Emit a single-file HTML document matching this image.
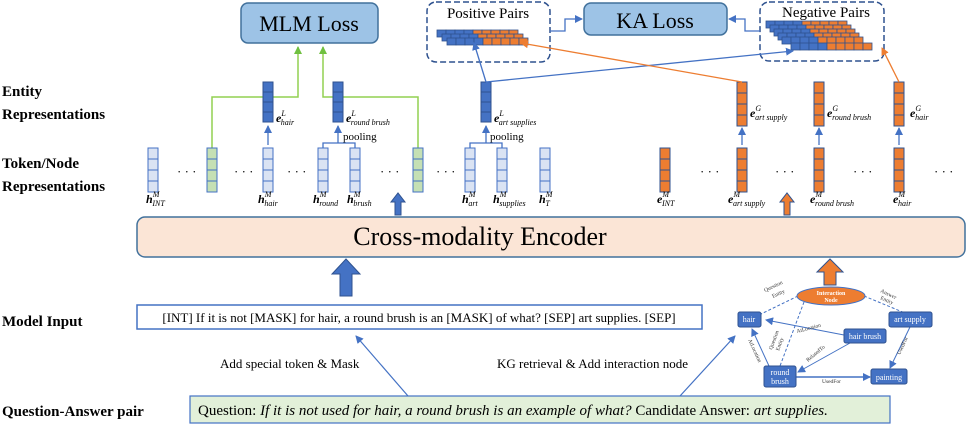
<!DOCTYPE html>
<html><head><meta charset="utf-8"><style>
html,body{margin:0;padding:0;background:#fff;}
svg, svg text, svg tspan{font-family:"Liberation Serif","Times New Roman",serif;}
</style></head><body>
<svg width="969" height="426" viewBox="0 0 969 426" xmlns="http://www.w3.org/2000/svg" font-family="Liberation Serif, serif">
<defs>
<marker id="ab" markerWidth="8" markerHeight="8" refX="7" refY="4" orient="auto" markerUnits="userSpaceOnUse"><path d="M0,0 L8,4 L0,8 z" fill="#4472c4"/></marker>
<marker id="ag" markerWidth="8" markerHeight="8" refX="7" refY="4" orient="auto" markerUnits="userSpaceOnUse"><path d="M0,0 L8,4 L0,8 z" fill="#70c040"/></marker>
<marker id="ao" markerWidth="8" markerHeight="8" refX="7" refY="4" orient="auto" markerUnits="userSpaceOnUse"><path d="M0,0 L8,4 L0,8 z" fill="#ed7d31"/></marker>
<g id="lb"><rect x="0" y="0" width="10" height="11" fill="#dae3f3" stroke="#4472c4"/><rect x="0" y="11" width="10" height="11" fill="#dae3f3" stroke="#4472c4"/><rect x="0" y="22" width="10" height="11" fill="#dae3f3" stroke="#4472c4"/><rect x="0" y="33" width="10" height="11" fill="#dae3f3" stroke="#4472c4"/></g>
<g id="gb"><rect x="0" y="0" width="10" height="11" fill="#c5e0b4" stroke="#4472c4"/><rect x="0" y="11" width="10" height="11" fill="#c5e0b4" stroke="#4472c4"/><rect x="0" y="22" width="10" height="11" fill="#c5e0b4" stroke="#4472c4"/><rect x="0" y="33" width="10" height="11" fill="#c5e0b4" stroke="#4472c4"/></g>
<g id="db"><rect x="0" y="0" width="10" height="10" fill="#4472c4" stroke="#2f528f"/><rect x="0" y="10" width="10" height="10" fill="#4472c4" stroke="#2f528f"/><rect x="0" y="20" width="10" height="10" fill="#4472c4" stroke="#2f528f"/><rect x="0" y="30" width="10" height="10" fill="#4472c4" stroke="#2f528f"/></g>
<g id="ob"><rect x="0" y="0" width="10" height="11" fill="#ed7d31" stroke="#2f528f"/><rect x="0" y="11" width="10" height="11" fill="#ed7d31" stroke="#2f528f"/><rect x="0" y="22" width="10" height="11" fill="#ed7d31" stroke="#2f528f"/><rect x="0" y="33" width="10" height="11" fill="#ed7d31" stroke="#2f528f"/></g>
<g id="row"><rect x="0" y="0" width="9" height="7" fill="#4472c4" stroke="#2f528f" stroke-width="0.8"/><rect x="9" y="0" width="9" height="7" fill="#4472c4" stroke="#2f528f" stroke-width="0.8"/><rect x="18" y="0" width="9" height="7" fill="#4472c4" stroke="#2f528f" stroke-width="0.8"/><rect x="27" y="0" width="9" height="7" fill="#4472c4" stroke="#2f528f" stroke-width="0.8"/><rect x="36" y="0" width="9" height="7" fill="#ed7d31" stroke="#2f528f" stroke-width="0.8"/><rect x="45" y="0" width="9" height="7" fill="#ed7d31" stroke="#2f528f" stroke-width="0.8"/><rect x="54" y="0" width="9" height="7" fill="#ed7d31" stroke="#2f528f" stroke-width="0.8"/><rect x="63" y="0" width="9" height="7" fill="#ed7d31" stroke="#2f528f" stroke-width="0.8"/><rect x="72" y="0" width="9" height="7" fill="#ed7d31" stroke="#2f528f" stroke-width="0.8"/></g>
</defs>

<g font-weight="bold" font-size="15" fill="#000">
<text x="2" y="96">Entity</text><text x="2" y="119">Representations</text>
<text x="2" y="168">Token/Node</text><text x="2" y="191">Representations</text>
<text x="2" y="326">Model Input</text>
<text x="2" y="416">Question-Answer pair</text>
</g>

<rect x="241" y="3" width="137" height="40" rx="7" fill="#9dc3e6" stroke="#41719c" stroke-width="1.5"/>
<text x="309" y="31" font-size="22" text-anchor="middle">MLM Loss</text>
<rect x="584" y="3" width="143" height="32" rx="7" fill="#9dc3e6" stroke="#41719c" stroke-width="1.5"/>
<text x="655" y="28" font-size="22" text-anchor="middle">KA Loss</text>
<rect x="427" y="2" width="123" height="60" rx="9" fill="#fff" stroke="#2f528f" stroke-width="1.5" stroke-dasharray="6,3"/>
<text x="488" y="18" font-size="15" text-anchor="middle">Positive Pairs</text>
<use href="#row" x="437" y="30"/><use href="#row" x="442" y="34"/><use href="#row" x="447" y="38"/>
<rect x="760" y="2" width="124" height="59" rx="9" fill="#fff" stroke="#2f528f" stroke-width="1.5" stroke-dasharray="6,3"/>
<text x="826" y="17" font-size="15" text-anchor="middle">Negative Pairs</text>
<use href="#row" x="766" y="21"/><use href="#row" x="770" y="25"/><use href="#row" x="774" y="29"/><use href="#row" x="778" y="33"/><use href="#row" x="782" y="37"/><use href="#row" x="791" y="43"/>

<polyline points="550,31 565,31 565,19 582,19" fill="none" stroke="#4472c4" stroke-width="1.3" marker-end="url(#ab)"/>
<polyline points="760,31 745,31 745,19 729,19" fill="none" stroke="#4472c4" stroke-width="1.3" marker-end="url(#ab)"/>

<polyline points="212,148 212,97 298,97 298,47" fill="none" stroke="#92d050" stroke-width="1.5" marker-end="url(#ag)"/>
<polyline points="418,148 418,97 323,97 323,47" fill="none" stroke="#92d050" stroke-width="1.5" marker-end="url(#ag)"/>

<use href="#lb" x="148" y="148"/><use href="#gb" x="207" y="148"/><use href="#lb" x="263" y="148"/>
<use href="#lb" x="318" y="148"/><use href="#lb" x="350" y="148"/><use href="#gb" x="413" y="148"/>
<use href="#lb" x="465" y="148"/><use href="#lb" x="497" y="148"/><use href="#lb" x="540" y="148"/>
<g font-size="13"><text x="177" y="176">· · ·</text><text x="234" y="176">· · ·</text><text x="287" y="176">· · ·</text><text x="380" y="176">· · ·</text><text x="436" y="176">· · ·</text>
<text x="700" y="176">· · ·</text><text x="775" y="176">· · ·</text><text x="853" y="176">· · ·</text><text x="934" y="176">· · ·</text></g>

<use href="#db" x="263" y="82"/><use href="#db" x="333" y="82"/><use href="#db" x="481" y="82"/>
<line x1="268" y1="145" x2="268" y2="126" stroke="#4472c4" stroke-width="1.3" marker-end="url(#ab)"/>
<polyline points="323,148 323,143 355,143 355,148" fill="none" stroke="#4472c4" stroke-width="1.3"/>
<line x1="338" y1="143" x2="338" y2="126" stroke="#4472c4" stroke-width="1.3" marker-end="url(#ab)"/>
<polyline points="470,148 470,143 502,143 502,148" fill="none" stroke="#4472c4" stroke-width="1.3"/>
<line x1="486" y1="143" x2="486" y2="126" stroke="#4472c4" stroke-width="1.3" marker-end="url(#ab)"/>
<text x="343" y="140" font-size="11">pooling</text><text x="490" y="140" font-size="11">pooling</text>

<use href="#ob" x="660" y="148"/><use href="#ob" x="737" y="148"/><use href="#ob" x="814" y="148"/><use href="#ob" x="894" y="148"/>
<use href="#ob" x="737" y="82"/><use href="#ob" x="814" y="82"/><use href="#ob" x="894" y="82"/>
<line x1="742" y1="145" x2="742" y2="128" stroke="#4472c4" stroke-width="1.3" marker-end="url(#ab)"/>
<line x1="819" y1="145" x2="819" y2="128" stroke="#4472c4" stroke-width="1.3" marker-end="url(#ab)"/>
<line x1="899" y1="145" x2="899" y2="128" stroke="#4472c4" stroke-width="1.3" marker-end="url(#ab)"/>

<line x1="486" y1="82" x2="474" y2="43" stroke="#4472c4" stroke-width="1.3" marker-end="url(#ab)"/>
<line x1="486" y1="82" x2="793" y2="51" stroke="#4472c4" stroke-width="1.3" marker-end="url(#ab)"/>
<line x1="742" y1="82" x2="521" y2="43" stroke="#ed7d31" stroke-width="1.3" marker-end="url(#ao)"/>
<line x1="899" y1="82" x2="882" y2="48" stroke="#ed7d31" stroke-width="1.3" marker-end="url(#ao)"/>

<g font-size="12" font-style="italic">
<text x="276" y="122"><tspan font-weight="bold">e</tspan><tspan font-size="8" dy="-6">L</tspan><tspan font-size="8" dx="-5" dy="9">hair</tspan></text>
<text x="346" y="122"><tspan font-weight="bold">e</tspan><tspan font-size="8" dy="-6">L</tspan><tspan font-size="8" dx="-5" dy="9">round brush</tspan></text>
<text x="494" y="122"><tspan font-weight="bold">e</tspan><tspan font-size="8" dy="-6">L</tspan><tspan font-size="8" dx="-5" dy="9">art supplies</tspan></text>
<text x="750" y="117"><tspan font-weight="bold">e</tspan><tspan font-size="8" dy="-6">G</tspan><tspan font-size="8" dx="-6" dy="9">art supply</tspan></text>
<text x="827" y="117"><tspan font-weight="bold">e</tspan><tspan font-size="8" dy="-6">G</tspan><tspan font-size="8" dx="-6" dy="9">round brush</tspan></text>
<text x="910" y="117"><tspan font-weight="bold">e</tspan><tspan font-size="8" dy="-6">G</tspan><tspan font-size="8" dx="-6" dy="9">hair</tspan></text>
<text x="146" y="203"><tspan font-weight="bold">h</tspan><tspan font-size="8" dy="-6">M</tspan><tspan font-size="8" dx="-7" dy="9">INT</tspan></text>
<text x="258" y="203"><tspan font-weight="bold">h</tspan><tspan font-size="8" dy="-6">M</tspan><tspan font-size="8" dx="-7" dy="9">hair</tspan></text>
<text x="313" y="203"><tspan font-weight="bold">h</tspan><tspan font-size="8" dy="-6">M</tspan><tspan font-size="8" dx="-7" dy="9">round</tspan></text>
<text x="347" y="203"><tspan font-weight="bold">h</tspan><tspan font-size="8" dy="-6">M</tspan><tspan font-size="8" dx="-7" dy="9">brush</tspan></text>
<text x="462" y="203"><tspan font-weight="bold">h</tspan><tspan font-size="8" dy="-6">M</tspan><tspan font-size="8" dx="-7" dy="9">art</tspan></text>
<text x="493" y="203"><tspan font-weight="bold">h</tspan><tspan font-size="8" dy="-6">M</tspan><tspan font-size="8" dx="-7" dy="9">supplies</tspan></text>
<text x="539" y="203"><tspan font-weight="bold">h</tspan><tspan font-size="8" dy="-6">M</tspan><tspan font-size="8" dx="-7" dy="9">T</tspan></text>
<text x="657" y="203"><tspan font-weight="bold">e</tspan><tspan font-size="8" dy="-6">M</tspan><tspan font-size="8" dx="-7" dy="9">INT</tspan></text>
<text x="728" y="203"><tspan font-weight="bold">e</tspan><tspan font-size="8" dy="-6">M</tspan><tspan font-size="8" dx="-7" dy="9">art supply</tspan></text>
<text x="810" y="203"><tspan font-weight="bold">e</tspan><tspan font-size="8" dy="-6">M</tspan><tspan font-size="8" dx="-7" dy="9">round brush</tspan></text>
<text x="893" y="203"><tspan font-weight="bold">e</tspan><tspan font-size="8" dy="-6">M</tspan><tspan font-size="8" dx="-7" dy="9">hair</tspan></text>
</g>

<path d="M395,215 L395,202 L391,202 L398,193 L405,202 L401,202 L401,215 z" fill="#4472c4" stroke="#2f528f"/>
<path d="M784,215 L784,202 L780,202 L787,193 L794,202 L790,202 L790,215 z" fill="#ed7d31" stroke="#2f528f"/>

<rect x="137" y="217" width="828" height="40" rx="8" fill="#fbe5d6" stroke="#41719c" stroke-width="1.5"/>
<text x="480" y="245" font-size="26" text-anchor="middle">Cross-modality Encoder</text>

<path d="M340,296 L340,274 L332,274 L346,259 L360,274 L352,274 L352,296 z" fill="#4472c4" stroke="#2f528f"/>
<path d="M824,285 L824,272 L817,272 L830,259 L843,272 L836,272 L836,285 z" fill="#ed7d31" stroke="#2f528f"/>

<rect x="137" y="305" width="565" height="24" fill="#fff" stroke="#4472c4" stroke-width="1.5"/>
<text x="419" y="322" font-size="13" text-anchor="middle">[INT] If it is not [MASK] for hair, a round brush is an [MASK] of what? [SEP] art supplies. [SEP]</text>

<text x="220" y="368" font-size="13">Add special token &amp; Mask</text>
<text x="497" y="368" font-size="13">KG retrieval &amp; Add interaction node</text>
<line x1="408" y1="396" x2="356" y2="336" stroke="#4472c4" stroke-width="1.2" marker-end="url(#ab)"/>
<line x1="680" y1="396" x2="735" y2="336" stroke="#4472c4" stroke-width="1.2" marker-end="url(#ab)"/>

<rect x="190" y="396" width="700" height="27" fill="#e2f0d9" stroke="#4472c4" stroke-width="1.2"/>
<text x="198" y="415" font-size="15">Question: <tspan font-style="italic">If it is not used for hair, a round brush is an example of what?</tspan>  Candidate Answer: <tspan font-style="italic">art supplies.</tspan></text>

<g stroke="#4472c4" stroke-width="1" fill="none">
<line x1="798" y1="296" x2="761" y2="314" stroke-dasharray="3,2"/>
<line x1="864" y1="296" x2="905" y2="313" stroke-dasharray="3,2"/>
<line x1="804" y1="302" x2="780" y2="366" stroke-dasharray="3,2"/>
<line x1="844" y1="335" x2="766" y2="320" marker-end="url(#ab)"/>
<line x1="850" y1="343" x2="798" y2="372" marker-end="url(#ab)"/>
<line x1="769" y1="366" x2="752" y2="329" marker-end="url(#ab)"/>
<line x1="796" y1="377" x2="870" y2="377" stroke-width="1.5" marker-end="url(#ab)"/>
<line x1="910" y1="327" x2="890" y2="368" marker-end="url(#ab)"/>
</g>
<ellipse cx="831" cy="296" rx="34" ry="9" fill="#ed7d31" stroke="#4472c4"/>
<text x="831" y="295" font-size="6" fill="#fff" text-anchor="middle" font-weight="bold">Interaction</text>
<text x="831" y="302" font-size="6" fill="#fff" text-anchor="middle" font-weight="bold">Node</text>
<g fill="#4472c4" stroke="#2f528f">
<rect x="738" y="312" width="23" height="15" rx="2"/>
<rect x="889" y="312" width="43" height="15" rx="2"/>
<rect x="844" y="329" width="42" height="14" rx="2"/>
<rect x="764" y="366" width="32" height="21" rx="2"/>
<rect x="871" y="369" width="36" height="15" rx="2"/>
</g>
<g fill="#fff" font-size="8" text-anchor="middle">
<text x="749" y="322">hair</text><text x="910" y="322">art supply</text><text x="865" y="339">hair brush</text>
<text x="780" y="375">round</text><text x="780" y="384">brush</text><text x="889" y="380">painting</text>
</g>
<g font-size="5.5" fill="#333">
<text x="765" y="292" transform="rotate(-25 765 292)">Question</text>
<text x="773" y="298" transform="rotate(-25 773 298)">Entity</text>
<text x="880" y="292" transform="rotate(25 880 292)">Answer</text>
<text x="880" y="299" transform="rotate(25 880 299)">Entity</text>
<text x="797" y="333" transform="rotate(-15 797 333)">AtLocation</text>
<text x="772" y="350" transform="rotate(-70 772 350)">Question</text>
<text x="779" y="351" transform="rotate(-70 779 351)">Entity</text>
<text x="808" y="362" transform="rotate(-40 808 362)">RelatedTo</text>
<text x="748" y="340" transform="rotate(65 748 340)">AtLocation</text>
<text x="822" y="383">UsedFor</text>
<text x="900" y="355" transform="rotate(-65 900 355)">UsedFor</text>
</g>
</svg>
</body></html>
